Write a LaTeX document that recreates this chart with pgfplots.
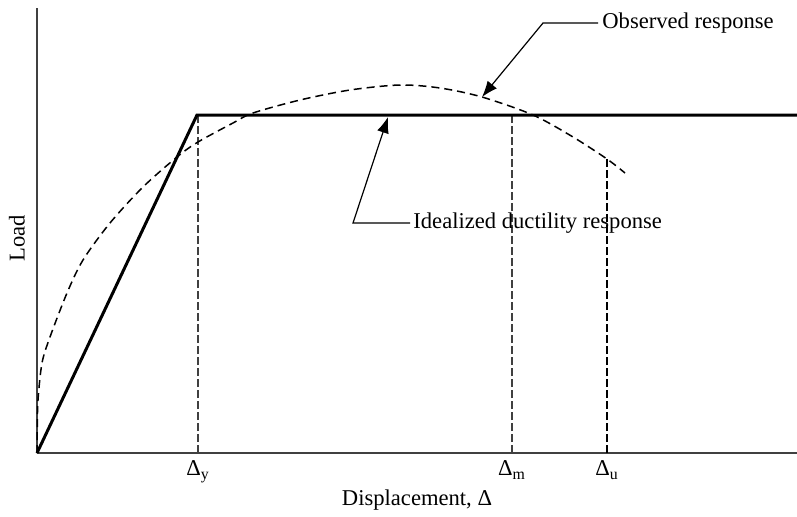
\documentclass[border=0pt]{standalone}
\usepackage{fontspec}
\setmainfont{Liberation Serif}
\usepackage{pgfplots}
\pgfplotsset{compat=1.18}
\usetikzlibrary{arrows.meta}
\begin{document}
\fontsize{11.3}{13}\selectfont
\begin{tikzpicture}
\begin{axis}[
  scale only axis, width=380pt, height=222.5pt,
  xmin=0, xmax=760, ymin=0, ymax=445,
  axis lines=left, axis line style={-, line width=0.75pt, black!75},
  xtick={161,475,570},
  xticklabels={Δ\textsubscript{y}, Δ\textsubscript{m}, Δ\textsubscript{u}},
  ytick=\empty,
  major tick length=0pt,
  tick label style={font=\fontsize{11.3}{13}\selectfont},
  clip=false,
]
\coordinate (O) at (axis cs:0,0);
% vertical markers
\addplot[black!75, line width=0.75pt, dash pattern=on 4pt off 1.5pt] coordinates {(161,0) (161,338)};
\addplot[black!75, line width=0.75pt, dash pattern=on 4pt off 1.5pt] coordinates {(475,0) (475,338)};
\addplot[black, line width=0.6pt, dash pattern=on 4pt off 1.5pt] coordinates {(570,0) (570,294)};
% idealized bilinear response
\addplot[black, line width=1.5pt, line join=miter] coordinates {(0,0) (160,338) (760,338)};
% observed response
\addplot[black, line width=0.75pt, dash pattern=on 4pt off 2.5pt, smooth, tension=0.5] coordinates {
(0,0) (0.3,25) (1,53) (5,90) (13,116) (30,160) (46,193) (73,230) (106,266) (140,296) (161,311)
(196,330) (216,340) (263,353) (313,363) (363,368) (403,365) (445,356) (496,338)
(536,316) (570,294) (588,280)};
% annotations
\draw[line width=0.6pt, -{Latex[length=8pt,width=6pt]}] (axis cs:561,430) -- (axis cs:506,430) -- (axis cs:445,356);
\node[anchor=west, inner sep=1pt] at (axis cs:563,430) {Observed response};
\draw[line width=0.6pt, -{Latex[length=8pt,width=6pt]}] (axis cs:373,230) -- (axis cs:316,230) -- (axis cs:351,336);
\node[anchor=west, inner sep=1pt] at (axis cs:374,230) {Idealized ductility response};
\node[rotate=90] at (axis cs:-20,215) {Load};
\node at (axis cs:380,-47) {Displacement, Δ};
\end{axis}
\pgfresetboundingbox
\path ([shift={(-18.5pt,-31.5pt)}]O) rectangle ([shift={(380pt,226.5pt)}]O);
\end{tikzpicture}
\end{document}
